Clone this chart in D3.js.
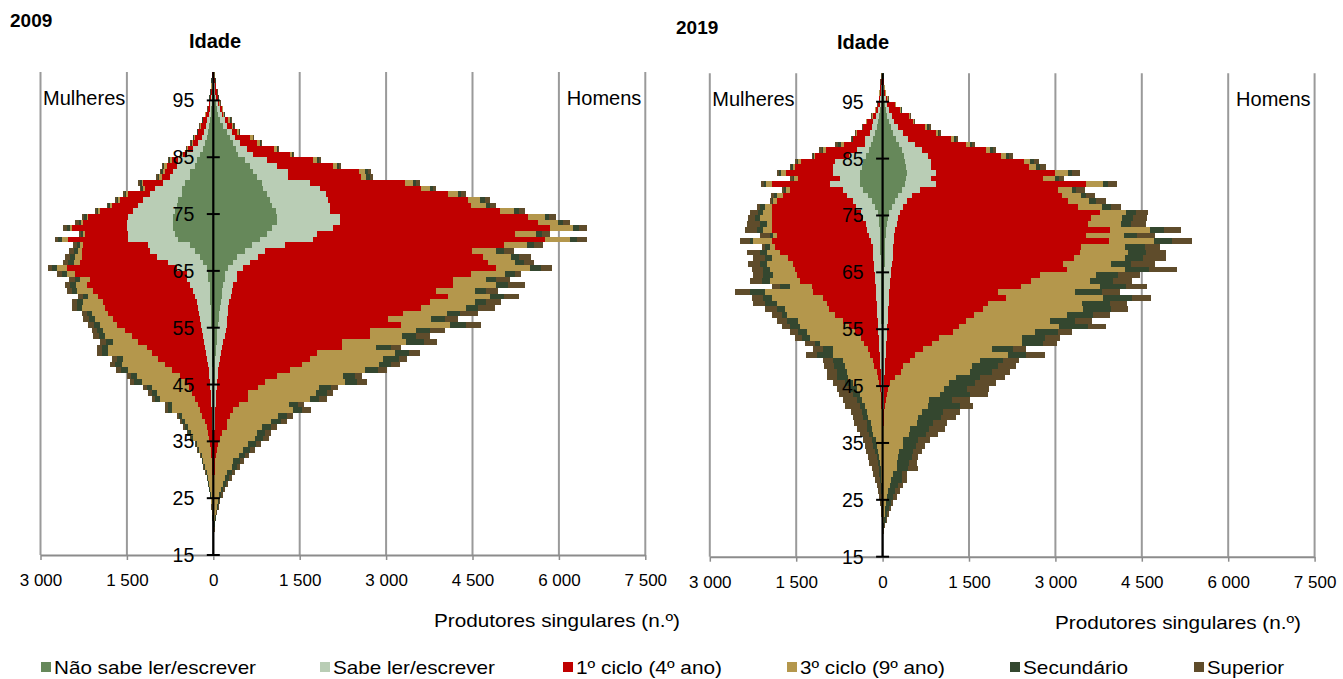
<!DOCTYPE html>
<html>
<head>
<meta charset="utf-8">
<script src="https://cdn.jsdelivr.net/npm/d3@7"></script>
<style>
  body { margin: 0; background: #fff; }
  svg { font-family: "Liberation Sans", Arial, sans-serif; }
</style>
</head>
<body>
<svg id="chart" width="1343" height="679"></svg>
<script>
const niveis = ["Não sabe ler/escrever", "Sabe ler/escrever", "1º ciclo (4º ano)", "3º ciclo (9º ano)", "Secundário", "Superior"];
const cores = ["#66885a", "#b9cdb5", "#c00000", "#b4974c", "#34472f", "#5f4c2b"];
const idades = d3.range(99, 14, -1); // rows below go from 99 down to 15
const xTicks = [-3000, -1500, 0, 1500, 3000, 4500, 6000, 7500];
const yTicks = [15, 25, 35, 45, 55, 65, 75, 85, 95];

// one row per age (99 -> 15), one value per education level (same order as niveis)
const homens2009 = [
  [6,6,6,6,3,3],[9,9,12,6,3,3],[12,12,17,6,3,3],[17,17,23,12,3,3],[29,17,29,12,6,6], // 99-95
  [46,40,17,12,6,6],[58,58,29,17,6,6],[87,58,29,17,9,9],[116,87,58,29,12,17],[173,58,87,29,12,17], // 94-90
  [231,87,98,35,6,6],[289,87,260,46,12,12],[347,116,300,46,12,17],[393,185,474,46,17,23],[434,260,636,40,17,17], // 89-85
  [549,376,809,69,35,40],[636,462,983,69,35,40],[694,607,1230,98,58,58],[751,549,1272,87,58,58],[838,838,1647,145,58,69], // 84-80
  [867,983,1751,156,58,58],[925,1040,2110,173,58,87],[983,1012,2428,202,87,87],[1012,1012,2457,249,69,104],[1087,936,2948,243,87,116], // 79-75
  [1098,1098,3266,289,75,116],[1098,1098,3439,347,87,116],[1012,1069,3769,393,104,145],[925,867,3439,376,104,127],[809,925,4017,445,121,173], // 74-70
  [665,578,3798,405,116,162],[549,347,3601,405,139,173],[405,376,3902,491,133,202],[347,289,4133,462,156,179],[260,260,4381,590,202,191], // 69-65
  [202,202,4075,578,173,116],[202,202,3757,578,173,243],[173,173,3815,751,202,306],[145,173,3555,665,191,214],[145,156,3775,734,231,266], // 64-60
  [127,150,3481,780,191,270],[116,145,3353,768,214,289],[104,145,3047,768,214,318],[98,145,2793,739,255,219],[87,145,3035,849,266,272], // 59-55
  [69,150,2499,809,243,260],[58,139,2521,560,249,231],[58,116,2052,1127,301,231],[46,104,2076,596,260,185],[40,92,1661,1358,249,196], // 54-50
  [35,81,1561,1272,271,151],[29,69,1435,1346,214,145],[29,58,1243,1301,231,145],[23,52,1025,1155,203,132],[23,46,827,1388,214,162], // 49-45
  [17,40,723,1059,197,121],[17,35,555,1174,185,104],[12,35,560,1070,162,127],[12,29,410,868,156,98],[12,23,312,1040,145,162], // 44-40
  [6,23,260,838,156,104],[6,17,208,769,173,110],[6,17,208,613,150,116],[3,14,127,607,145,98],[3,14,98,607,145,98], // 39-35
  [3,9,75,520,127,87],[2,7,49,462,116,87],[1,6,39,393,116,69],[1,5,29,312,116,75],[1,5,23,289,87,58], // 34-30
  [1,2,20,208,87,58],[0,3,15,185,75,40],[0,2,10,150,58,40],[0,2,10,116,46,35],[0,1,5,92,35,29], // 29-25
  [0,1,4,69,23,23],[0,0,3,55,17,17],[0,0,3,38,12,17],[0,0,0,29,12,12],[0,0,0,17,6,12], // 24-20
  [0,0,0,12,6,6],[0,0,0,6,3,3],[0,0,0,3,1,2],[0,0,0,2,1,1],[0,0,0,1,0,0] // 19-15
];

const mulheres2009 = [
  [6,6,6,3,3,3],[9,9,6,6,3,3],[12,12,6,6,3,3],[17,12,12,6,3,3],[23,17,17,6,3,3], // 99-95
  [29,23,17,6,3,3],[35,29,23,6,6,6],[46,35,46,12,6,6],[58,46,69,12,6,6],[75,52,92,12,6,6], // 94-90
  [92,69,98,12,12,6],[116,87,116,17,12,12],[145,116,98,17,12,17],[185,162,87,17,12,17],[231,231,69,17,12,17], // 89-85
  [289,318,116,29,17,17],[318,318,173,46,17,23],[405,289,145,40,23,23],[405,347,145,46,23,29],[491,376,347,29,29,29], // 84-80
  [549,462,173,40,23,23],[549,549,376,40,23,23],[607,607,405,35,23,29],[636,665,462,29,29,29],[665,723,578,29,29,29], // 79-75
  [694,780,694,29,40,46],[694,809,751,46,40,58],[694,809,954,29,58,58],[665,809,751,29,40,46],[607,867,1040,116,58,58], // 74-70
  [405,723,1127,58,58,58],[318,780,1185,58,75,81],[231,751,1301,116,87,87],[173,607,1531,116,87,87],[116,520,1907,173,87,75], // 69-65
  [87,376,1936,145,87,87],[87,376,1676,173,87,98],[58,347,1792,191,98,87],[58,289,1734,289,87,87],[58,260,1676,173,87,87], // 64-60
  [52,237,1618,347,104,98],[46,225,1607,405,87,87],[46,208,1566,289,87,87],[40,191,1503,318,104,98],[35,179,1462,289,104,98], // 59-55
  [29,162,1341,376,104,98],[29,145,1243,462,104,98],[23,133,1145,434,127,104],[23,116,1017,665,116,87],[17,104,948,751,116,87], // 54-50
  [17,87,850,607,116,87],[17,75,746,751,116,87],[12,69,642,751,133,81],[12,58,509,751,104,69],[12,46,434,751,127,75], // 49-45
  [12,40,364,653,87,58],[6,40,329,607,87,58],[6,35,277,607,87,58],[6,29,225,462,69,46],[6,23,202,491,69,46], // 44-40
  [6,17,168,358,46,40],[3,14,133,341,52,35],[3,14,98,318,52,35],[3,9,75,301,46,29],[3,9,58,277,35,23], // 39-35
  [0,9,49,220,23,17],[0,6,40,197,23,23],[0,6,29,168,17,12],[0,6,23,145,17,12],[0,3,20,121,17,12], // 34-30
  [0,3,14,98,17,12],[0,3,9,81,12,12],[0,0,9,66,12,12],[0,0,6,52,12,12],[0,0,6,40,6,6], // 29-25
  [0,0,3,32,6,6],[0,0,3,23,3,6],[0,0,0,17,3,3],[0,0,0,12,3,3],[0,0,0,9,3,0], // 24-20
  [0,0,0,6,0,0],[0,0,0,3,0,0],[0,0,0,0,0,0],[0,0,0,0,0,0],[0,0,0,0,0,0] // 19-15
];

const homens2019 = [
  [3,3,6,3,3,3],[6,6,6,6,3,3],[12,9,9,6,3,3],[17,14,14,6,3,3],[29,23,29,12,6,6], // 99-95
  [40,40,133,12,6,6],[58,58,185,23,12,6],[81,75,306,12,6,6],[110,87,335,12,6,12],[145,127,462,40,29,29], // 94-90
  [185,173,561,35,23,29],[231,214,734,58,35,40],[277,283,882,69,40,46],[329,347,1127,69,46,58],[370,422,1260,87,58,69], // 89-85
  [393,445,1613,104,75,87],[405,434,1694,133,75,104],[416,509,2075,220,69,133],[405,428,1953,214,58,92],[393,532,2613,289,87,156], // 84-80
  [329,318,2399,237,81,145],[272,231,2618,329,87,145],[214,214,2792,364,127,162],[156,202,3035,422,145,185],[116,185,3480,451,162,214], // 79-75
  [92,179,3352,538,185,243],[75,168,3323,578,173,260],[64,150,3740,694,231,306],[52,145,3341,647,237,301],[46,150,3728,781,318,353], // 74-70
  [40,133,3277,751,347,260],[40,133,3248,838,306,347],[35,139,3144,884,318,405],[35,121,2977,838,347,416],[29,110,3064,1000,422,486], // 69-65
  [29,110,2601,971,376,387],[29,98,2457,1012,405,335],[23,104,2283,1358,462,364],[23,92,1890,1329,480,301],[23,92,2023,1688,509,329], // 64-60
  [17,87,1734,1618,491,289],[17,81,1647,1734,491,289],[17,75,1491,1618,451,289],[17,69,1370,1445,434,306],[14,66,1249,1728,509,306], // 59-55
  [14,61,1150,1416,405,249],[14,55,913,1445,387,260],[14,49,789,1561,376,231],[12,46,647,1196,364,231],[12,40,503,1618,318,329], // 54-50
  [12,35,427,1214,405,277],[12,29,318,1185,462,318],[9,26,278,1202,376,318],[9,23,182,1058,416,434],[9,20,98,1029,445,364], // 49-45
  [9,17,72,965,410,370],[9,14,46,925,520,318],[6,14,32,751,410,301],[6,12,23,751,549,220],[6,9,14,647,376,289], // 44-40
  [6,9,9,584,399,266],[6,6,6,572,289,231],[3,6,6,457,335,272],[3,6,3,451,283,220],[3,3,6,347,260,202], // 39-35
  [3,3,3,351,220,156],[3,3,3,283,243,145],[0,3,3,266,231,116],[0,3,3,248,208,139],[0,3,3,237,202,162], // 34-30
  [0,3,3,168,168,87],[0,0,3,147,179,87],[0,0,3,124,145,87],[0,0,3,95,116,87],[0,0,3,78,104,58], // 29-25
  [0,0,0,58,81,46],[0,0,0,46,64,29],[0,0,0,35,46,23],[0,0,0,23,29,17],[0,0,0,12,17,12], // 24-20
  [0,0,0,6,6,6],[0,0,0,3,3,3],[0,0,0,0,0,0],[0,0,0,0,0,0],[0,0,0,0,0,0] // 19-15
];

const mulheres2019 = [
  [6,6,6,3,3,3],[9,9,12,3,3,3],[12,12,17,3,3,3],[14,14,23,3,3,6],[17,23,17,6,3,3], // 99-95
  [29,23,23,6,6,6],[40,40,35,12,6,6],[58,58,58,12,6,12],[75,87,116,6,6,6],[98,92,145,6,6,12], // 94-90
  [127,92,231,6,6,12],[162,145,202,12,12,17],[202,104,364,52,46,58],[243,208,532,46,29,40],[289,289,595,23,17,17], // 89-85
  [335,497,578,52,29,35],[364,491,665,40,23,23],[393,462,821,81,35,46],[393,347,723,69,29,46],[393,520,1012,98,40,46], // 84-80
  [335,347,925,69,35,40],[260,364,1098,116,46,58],[191,318,1329,58,29,29],[127,335,1462,116,87,58],[87,289,1549,145,87,145], // 79-75
  [69,266,1590,202,87,116],[58,231,1636,87,116,231],[52,225,1647,145,116,202],[46,197,1595,58,58,173],[46,156,1722,318,58,173], // 74-70
  [40,133,1694,87,87,58],[40,121,1618,231,116,231],[35,127,1474,289,116,202],[35,121,1393,462,116,202],[35,110,1376,434,116,202], // 69-65
  [29,104,1358,405,173,173],[29,98,1306,520,145,202],[29,92,1110,376,173,145],[29,87,1087,838,260,260],[29,81,919,896,145,202], // 64-60
  [23,81,867,867,202,214],[23,75,827,769,145,202],[23,69,734,838,87,173],[23,64,595,780,202,173],[17,64,497,855,173,145], // 59-55
  [17,58,405,838,145,145],[17,52,306,884,145,116],[17,46,254,769,87,173],[12,46,202,595,173,173],[12,40,168,636,289,191], // 54-50
  [12,35,127,508,173,185],[12,29,104,509,191,173],[12,23,69,520,173,173],[6,23,46,520,202,173],[6,17,35,451,145,214], // 49-45
  [6,14,26,405,116,231],[6,12,17,358,116,243],[6,9,14,335,87,231],[3,9,12,283,87,260],[3,6,9,260,87,191], // 44-40
  [3,6,6,234,87,173],[3,3,6,197,69,220],[3,3,3,182,87,173],[0,6,3,153,69,162],[0,3,3,110,75,156], // 39-35
  [0,3,3,98,58,145],[0,3,3,69,58,162],[0,0,3,55,46,145],[0,0,3,43,40,145],[0,0,3,32,29,127], // 34-30
  [0,0,0,29,29,104],[0,0,0,23,23,87],[0,0,0,17,12,75],[0,0,0,12,12,52],[0,0,0,6,12,40], // 29-25
  [0,0,0,6,6,35],[0,0,0,6,6,23],[0,0,0,3,3,17],[0,0,0,3,3,12],[0,0,0,0,3,9], // 24-20
  [0,0,0,0,0,6],[0,0,0,0,0,0],[0,0,0,0,0,0],[0,0,0,0,0,0],[0,0,0,0,0,0] // 19-15
];

// legend label widths as drawn in the source picture
const legendX = [41, 320, 563, 787, 1010, 1194];
const legendW = [202, 162, 146, 145, 105, 77];

const svg = d3.select("#chart");
const pt = d3.formatLocale({ decimal: ",", thousands: " ", grouping: [3], currency: ["", ""] });
const fmt = pt.format(",");

function stackRows(rows, sign) {
  const data = rows.map((r, i) => Object.assign({ idade: idades[i] }, r.map(v => sign * v)));
  return d3.stack().keys(d3.range(niveis.length)).offset(d3.stackOffsetDiverging)(data);
}

function drawPanel(cfg) {
  const g = svg.append("g");
  const x = d3.scaleLinear().domain([-3000, 7500]).range([cfg.left, cfg.right]);
  const y = d3.scaleBand().domain(d3.range(15, 100)).range([cfg.bottom, cfg.top]);
  const x0 = x(0);

  // vertical grid lines
  g.append("g").selectAll("line").data(xTicks).join("line")
    .attr("x1", d => x(d)).attr("x2", d => x(d))
    .attr("y1", cfg.top).attr("y2", cfg.bottom)
    .attr("stroke", "#9a9a9a").attr("stroke-width", 2);

  // x axis
  const xAxis = g.append("g").attr("transform", `translate(0,${cfg.bottom})`)
    .call(d3.axisBottom(x).tickValues(xTicks).tickSize(5).tickSizeOuter(0).tickPadding(14)
      .tickFormat(d => fmt(Math.abs(d))));
  xAxis.select(".domain").attr("stroke", "#8c8c8c").attr("stroke-width", 2);
  xAxis.selectAll(".tick line").attr("stroke", "#8c8c8c").attr("stroke-width", 1.5);
  xAxis.selectAll(".tick text").attr("font-size", 17).attr("fill", "#000")
    .attr("font-family", "Liberation Sans, Arial, sans-serif");

  // stacked bars: women to the left, men to the right
  const series = stackRows(cfg.mulheres, -1).concat(stackRows(cfg.homens, 1));
  g.append("g").attr("shape-rendering", "crispEdges")
    .selectAll("g").data(series).join("g")
    .attr("fill", s => cores[s.key])
    .selectAll("rect").data(s => s).join("rect")
    .attr("x", d => x(Math.min(d[0], d[1])))
    .attr("width", d => Math.abs(x(d[1]) - x(d[0])))
    .attr("y", d => y(d.data.idade))
    .attr("height", y.bandwidth());

  // age axis
  g.append("line")
    .attr("x1", x0).attr("x2", x0).attr("y1", cfg.top).attr("y2", cfg.bottom)
    .attr("stroke", "#000").attr("stroke-width", 2.2);
  const tickY = a => y(a) + y.bandwidth();
  g.append("g").selectAll("line").data(yTicks).join("line")
    .attr("x1", x0 - 6.5).attr("x2", x0 + 6.5)
    .attr("y1", tickY).attr("y2", tickY)
    .attr("stroke", "#000").attr("stroke-width", 2);
  g.append("g").selectAll("text").data(yTicks).join("text")
    .attr("x", x0 - 19).attr("y", tickY).attr("dy", "0.36em")
    .attr("text-anchor", "end").attr("font-size", 19.5).text(d => d);

  // labels
  g.append("text").attr("x", cfg.anoX).attr("y", cfg.anoY)
    .attr("font-size", 19).attr("font-weight", "bold").text(cfg.ano);
  g.append("text").attr("x", cfg.idadeX).attr("y", cfg.top - 24)
    .attr("text-anchor", "middle").attr("font-size", 20).attr("font-weight", "bold").text("Idade");
  g.append("text").attr("x", x(-3000) + 2.5).attr("y", cfg.top + 33)
    .attr("font-size", 20).text("Mulheres");
  g.append("text").attr("x", x(7500) - 4).attr("y", cfg.top + 33)
    .attr("text-anchor", "end").attr("font-size", 20).text("Homens");
  g.append("text").attr("x", cfg.tituloX).attr("y", cfg.bottom + 72)
    .attr("font-size", 18.5).attr("textLength", 246).attr("lengthAdjust", "spacingAndGlyphs")
    .text("Produtores singulares (n.º)");
}

drawPanel({ ano: "2009", left: 40.5, right: 645.3, top: 72, bottom: 555,
  anoX: 10, anoY: 27, idadeX: 215, tituloX: 434,
  homens: homens2009, mulheres: mulheres2009 });
drawPanel({ ano: "2019", left: 709.8, right: 1314.6, top: 73.3, bottom: 556.7,
  anoX: 676, anoY: 34, idadeX: 863, tituloX: 1055,
  homens: homens2019, mulheres: mulheres2019 });

// legend
const legend = svg.append("g").selectAll("g").data(niveis).join("g")
  .attr("transform", (d, i) => `translate(${legendX[i]},662)`);
legend.append("rect").attr("width", 10).attr("height", 10).attr("fill", (d, i) => cores[i]);
legend.append("text").attr("x", 13).attr("y", 12).attr("font-size", 18.5)
  .attr("textLength", (d, i) => legendW[i]).attr("lengthAdjust", "spacingAndGlyphs")
  .text(d => d);
</script>
</body>
</html>
